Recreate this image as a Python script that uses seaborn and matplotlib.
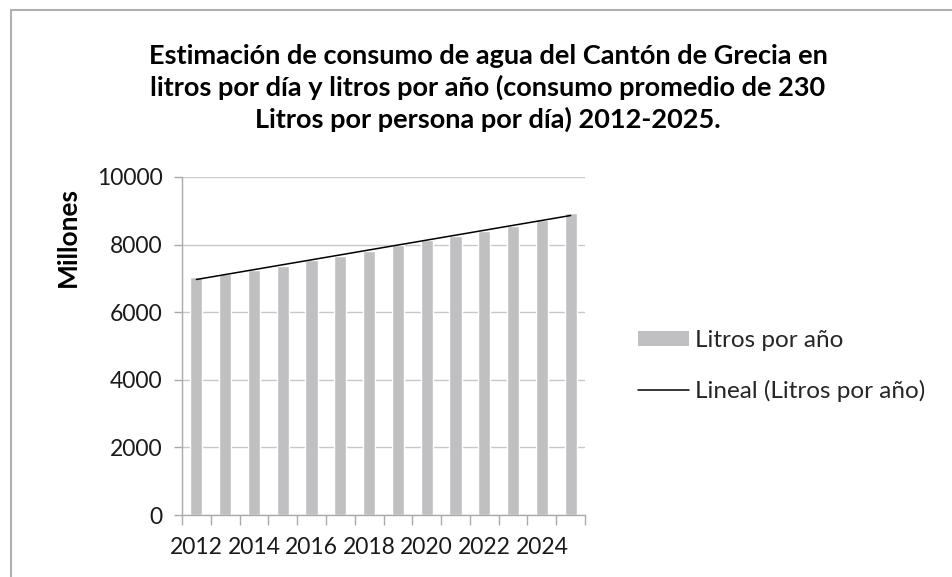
import numpy as np
import pandas as pd
import matplotlib
matplotlib.use("Agg")
import matplotlib.pyplot as plt
import seaborn as sns
from matplotlib.patches import Patch
from matplotlib.lines import Line2D

years = [2012, 2013, 2014, 2015, 2016, 2017, 2018, 2019, 2020, 2021, 2022, 2023, 2024, 2025]
litros_por_anio = [7050, 7120, 7250, 7380, 7530, 7660, 7820, 7980, 8140, 8260, 8400, 8550, 8730, 8930]
tick_labels = ["2012", "2014", "2016", "2018", "2020", "2022", "2024"]
title = ("Estimación de consumo de agua del Cantón de Grecia en\n"
         "litros por día y litros por año (consumo promedio de 230\n"
         "Litros por persona por día) 2012-2025.")
bar_label = "Litros por año"
trend_label = "Lineal (Litros por año)"

sns.set_theme(style="white")
plt.rcParams['font.family'] = ['Lato', 'DejaVu Sans']

W, H = 952, 577
fig = plt.figure(figsize=(W / 100, H / 100), dpi=100)
ax = fig.add_axes([182 / W, 1 - 515 / H, 403 / W, 338 / H])

df = pd.DataFrame({"year": [str(y) for y in years], "val": litros_por_anio})
sns.barplot(data=df, x="year", y="val", color="#c0c0c2", saturation=1, width=0.42, ax=ax)

xi = np.arange(len(years))
coef = np.polyfit(xi, litros_por_anio, 1)
ax.plot(xi, np.polyval(coef, xi), color="black", lw=1.1)

ax.set_xlim(-0.5, len(years) - 0.5)
ax.set_ylim(0, 10000)
ax.set_yticks(np.arange(0, 10001, 2000))
ax.set_yticklabels([str(v) for v in range(0, 10001, 2000)], fontsize=16.5, color="#1a1a1a")
ax.grid(axis="y", color="#c8c8c8", lw=1)
ax.set_axisbelow(True)

ax.set_xticks(np.arange(-0.5, len(years), 1.0))
ax.set_xticklabels([])
ax.set_xticks(np.arange(0, len(years), 2), minor=True)
ax.set_xticklabels(tick_labels, minor=True, fontsize=16.5, color="#1a1a1a")
ax.tick_params(axis="x", which="major", length=7, width=1, color="#aaaaaa", direction="out", bottom=True)
ax.tick_params(axis="x", which="minor", length=0, pad=16)
ax.tick_params(axis="y", length=6, width=1, color="#aaaaaa", direction="out", left=True, pad=8)
ax.set_xlabel("")
ax.set_ylabel("")
for s in ["top", "right"]:
    ax.spines[s].set_visible(False)
for s in ["left", "bottom"]:
    ax.spines[s].set_color("#aaaaaa")
    ax.spines[s].set_linewidth(1)

fig.text(68 / W, 1 - 237 / H, "Millones", rotation=90, fontsize=19, fontweight="bold",
         ha="center", va="center", color="black")

fig.text(488 / W, 1 - 88 / H, title, ha="center", va="center", fontsize=19.5,
         fontweight="bold", linespacing=1.33, color="black")

handles = [Patch(facecolor="#c0c0c2", edgecolor="none"),
           Line2D([0], [0], color="black", lw=1.1)]
fig.legend(handles, [bar_label, trend_label], loc="center left",
           bbox_to_anchor=(638 / W, 1 - 366 / H), frameon=False, fontsize=17.5,
           handlelength=2.1, handleheight=0.6, handletextpad=0.25, labelspacing=1.2,
           borderaxespad=0, borderpad=0)

# chart-area frame (top and left edges visible in the crop)
fig.add_artist(Line2D([11 / W, 1], [1 - 10 / H, 1 - 10 / H], transform=fig.transFigure,
                      color="#b0b0b0", lw=1.5))
fig.add_artist(Line2D([11 / W, 11 / W], [0, 1 - 10 / H], transform=fig.transFigure,
                      color="#b0b0b0", lw=1.5))
fig.savefig("out.png", dpi=100)
